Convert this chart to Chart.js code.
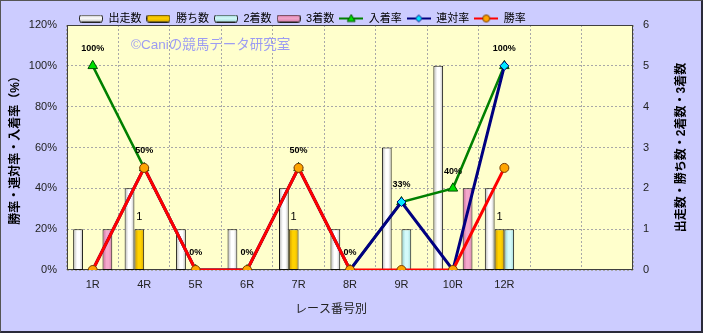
<!DOCTYPE html>
<html>
<head>
<meta charset="utf-8">
<script src="https://cdn.jsdelivr.net/npm/chart.js@4.4.1/dist/chart.umd.min.js"></script>
<style>
  body { margin: 0; background: #ffffff; }
  #wrap {
    width: 703px; height: 333px; box-sizing: border-box;
    border: 1px solid #555; border-right: 2px solid #2a2a3a; border-bottom: 2px solid #2a2a3a;
    background: #ccccff;
  }
  canvas { display: block; }
</style>
</head>
<body>
<div id="wrap"><canvas id="chart" width="700" height="330"></canvas></div>
<script>
// race categories (two empty slots at the right end)
const races      = ['1R', '4R', '5R', '6R', '7R', '8R', '9R', '10R', '12R', '', ''];
// counts (right axis)
const starters   = [1, 2, 1, 1, 2, 1, 3, 5, 2];
const wins       = [0, 1, 0, 0, 1, 0, 0, 0, 1];
const seconds    = [0, 0, 0, 0, 0, 0, 1, 0, 1];
const thirds     = [1, 0, 0, 0, 0, 0, 0, 2, 0];
// rates in % (left axis)
const placeRate  = [100, 50, 0, 0, 50, 0, 33.3, 40, 100];
const top2Rate   = [0, 50, 0, 0, 50, 0, 33.3, 0, 100];
const winRate    = [0, 50, 0, 0, 50, 0, 0, 0, 50];

const FONT = '"Liberation Sans", "Noto Sans CJK JP", sans-serif';
Chart.defaults.font.family = FONT;
Chart.defaults.color = '#222';

// bar fills: [edge, light, right edge]
const barShades = {
  white: ['#b4b4b4', '#ffffff', '#bcbcbc'],
  gold:  ['#c89400', '#ffd200', '#d8a800'],
  cyan:  ['#90cccc', '#d4fafa', '#a0d8d8'],
  pink:  ['#c86a98', '#f4a8cc', '#d47aa6'],
};
function shaded(name) {
  const [a, b, c] = barShades[name];
  return (ctx) => {
    const el = ctx.element;
    if (!el || !isFinite(el.x) || !el.width) return b;
    const g = ctx.chart.ctx.createLinearGradient(el.x - el.width / 2, 0, el.x + el.width / 2, 0);
    g.addColorStop(0, a);
    g.addColorStop(0.4, b);
    g.addColorStop(0.65, b);
    g.addColorStop(1, c);
    return g;
  };
}

// small legend icons
function barIcon(name) {
  const [a, b, c2] = barShades[name];
  const c = document.createElement('canvas');
  c.width = 24; c.height = 8;
  const g = c.getContext('2d');
  const gr = g.createLinearGradient(0, 0, 0, 8);
  gr.addColorStop(0, a); gr.addColorStop(0.45, b); gr.addColorStop(1, c2);
  g.fillStyle = gr;
  g.strokeStyle = '#222';
  g.lineWidth = 1;
  g.beginPath();
  g.roundRect(0.5, 0.5, 23, 7, 2);
  g.fill();
  g.stroke();
  return c;
}
function lineIcon(color, marker, fill, edge) {
  const c = document.createElement('canvas');
  c.width = 24; c.height = 10;
  const g = c.getContext('2d');
  g.strokeStyle = color;
  g.lineWidth = 2;
  g.beginPath(); g.moveTo(0, 5); g.lineTo(24, 5); g.stroke();
  g.fillStyle = fill;
  g.strokeStyle = edge;
  g.lineWidth = 1;
  g.beginPath();
  if (marker === 'triangle') { g.moveTo(12, 1); g.lineTo(16, 8); g.lineTo(8, 8); g.closePath(); }
  else if (marker === 'diamond') { g.moveTo(12, 1.5); g.lineTo(15.5, 5); g.lineTo(12, 8.5); g.lineTo(8.5, 5); g.closePath(); }
  else { g.arc(12, 5, 3.5, 0, Math.PI * 2); }
  g.fill(); g.stroke();
  return c;
}
const legendIcons = [
  barIcon('white'),
  barIcon('gold'),
  barIcon('cyan'),
  barIcon('pink'),
  lineIcon('#008000', 'triangle', '#00e000', '#005000'),
  lineIcon('#000080', 'diamond', '#00e8ff', '#000080'),
  lineIcon('#ff0000', 'circle', '#ffa500', '#7a3c00'),
];

// plot background + frame, legend nudge
const plotFrame = {
  id: 'plotFrame',
  afterLayout(chart) {
    if (chart.legend) { chart.legend.left += 7; chart.legend.right += 7; }
  },
  beforeDraw(chart) {
    const { ctx, chartArea: a } = chart;
    ctx.save();
    ctx.fillStyle = '#ffffcc';
    ctx.fillRect(a.left, a.top, a.right - a.left, a.bottom - a.top);
    ctx.restore();
  },
  beforeDatasetsDraw(chart) {
    const { ctx, chartArea: a } = chart;
    ctx.save();
    ctx.strokeStyle = '#404040';
    ctx.lineWidth = 1;
    ctx.strokeRect(Math.round(a.left) + 0.5, Math.round(a.top) + 0.5, Math.round(a.right - a.left) - 1, Math.round(a.bottom - a.top) - 1);
    ctx.restore();
  },
};

// watermark, right axis title, x axis title, value labels
const extras = {
  id: 'extras',
  afterDatasetsDraw(chart) {
    const { ctx, chartArea: a } = chart;
    ctx.save();
    ctx.fillStyle = '#9c9cf2';
    ctx.font = '13.5px ' + FONT;
    ctx.textAlign = 'left';
    ctx.textBaseline = 'middle';
    ctx.fillText('©Caniの競馬データ研究室', a.left + 64, a.top + 20);

    // rate labels above 入着率 points
    ctx.fillStyle = '#000';
    ctx.font = 'bold 9px ' + FONT;
    ctx.textAlign = 'center';
    const rateMeta = chart.getDatasetMeta(4);
    rateMeta.data.forEach((pt, i) => {
      if (placeRate[i] == null) return;
      ctx.fillText(Math.round(placeRate[i]) + '%', pt.x, pt.y - 17);
    });

    // win counts above the gold bars
    ctx.font = '11px ' + FONT;
    const winMeta = chart.getDatasetMeta(1);
    winMeta.data.forEach((bar, i) => {
      if (!wins[i]) return;
      ctx.fillText(String(wins[i]), bar.x, bar.y - 12);
    });

    // right axis title, reading bottom to top
    ctx.font = 'bold 12px ' + FONT;
    ctx.translate(681, (a.top + a.bottom) / 2);
    ctx.rotate(-Math.PI / 2);
    ctx.fillText('出走数・勝ち数・2着数・3着数', 0, 0);
    ctx.restore();

    ctx.save();
    ctx.fillStyle = '#222';
    ctx.font = '12px ' + FONT;
    ctx.textAlign = 'center';
    ctx.textBaseline = 'middle';
    ctx.fillText('レース番号別', 330, 309);
    ctx.restore();
  },
};

const barCommon = { type: 'bar', yAxisID: 'y1', order: 3, borderColor: '#111', borderWidth: 1, borderSkipped: false,
  categoryPercentage: 0.76, barPercentage: 1.0 };

const chart = new Chart(document.getElementById('chart'), {
  data: {
    labels: races,
    datasets: [
      { ...barCommon, label: '出走数', data: starters, backgroundColor: shaded('white') },
      { ...barCommon, label: '勝ち数', data: wins,     backgroundColor: shaded('gold') },
      { ...barCommon, label: '2着数',  data: seconds,  backgroundColor: shaded('cyan') },
      { ...barCommon, label: '3着数',  data: thirds,   backgroundColor: shaded('pink') },
      { type: 'line', label: '入着率', data: placeRate, yAxisID: 'y', order: 2,
        borderColor: '#008000', borderWidth: 2.5, pointStyle: 'triangle', pointRadius: 5.5,
        pointBackgroundColor: '#00e000', pointBorderColor: '#005000', pointBorderWidth: 1 },
      { type: 'line', label: '連対率', data: top2Rate, yAxisID: 'y', order: 1,
        borderColor: '#000080', borderWidth: 3, pointStyle: 'rectRot', pointRadius: 4.5,
        pointBackgroundColor: '#00e8ff', pointBorderColor: '#000080', pointBorderWidth: 1 },
      { type: 'line', label: '勝率', data: winRate, yAxisID: 'y', order: 0,
        borderColor: '#ff0000', borderWidth: 3, pointStyle: 'circle', pointRadius: 4.5,
        pointBackgroundColor: '#ffa500', pointBorderColor: '#7a3c00', pointBorderWidth: 1 },
    ],
  },
  options: {
    responsive: false,
    animation: false,
    layout: { padding: { top: 7, left: 0, right: 0, bottom: 0 } },
    plugins: {
      tooltip: { enabled: false },
      legend: {
        position: 'top',
        align: 'start',
        fullSize: false,
        maxHeight: 17,
        labels: {
          color: '#000',
          font: { size: 11 },
          padding: 5,
          usePointStyle: true,
          pointStyleWidth: 24,
          sort: (a, b) => a.datasetIndex - b.datasetIndex,
          generateLabels(chart) {
            const items = Chart.defaults.plugins.legend.labels.generateLabels(chart);
            items.forEach(it => { it.pointStyle = legendIcons[it.datasetIndex]; });
            return items;
          },
        },
      },
    },
    scales: {
      x: {
        offset: true,
        grid: { color: '#a8a8a8', drawTicks: false },
        border: { display: false, dash: [2, 2] },
        ticks: { padding: 8, font: { size: 11 }, color: '#222', maxRotation: 0 },
        afterFit: s => { s.height = 61; },
      },
      y: {
        position: 'left',
        min: 0, max: 120,
        grid: { color: '#a8a8a8', drawTicks: false },
        border: { display: false, dash: [2, 2] },
        ticks: { stepSize: 20, padding: 10, font: { size: 11 }, color: '#222', callback: v => v + '%' },
        title: { display: true, text: '勝率・連対率・入着率（%）', color: '#000',
          font: { size: 12, weight: 'bold' }, padding: { top: 7, bottom: 0 } },
        afterFit: s => { s.width = 66; },
      },
      y1: {
        position: 'right',
        min: 0, max: 6,
        grid: { display: false, drawTicks: false },
        border: { display: false },
        ticks: { stepSize: 1, padding: 10, font: { size: 11 }, color: '#222' },
        afterFit: s => { s.width = 68; },
      },
    },
  },
  plugins: [plotFrame, extras],
});
// second pass so the bar gradients can use the laid-out bar widths
chart.update('none');
</script>
</body>
</html>
